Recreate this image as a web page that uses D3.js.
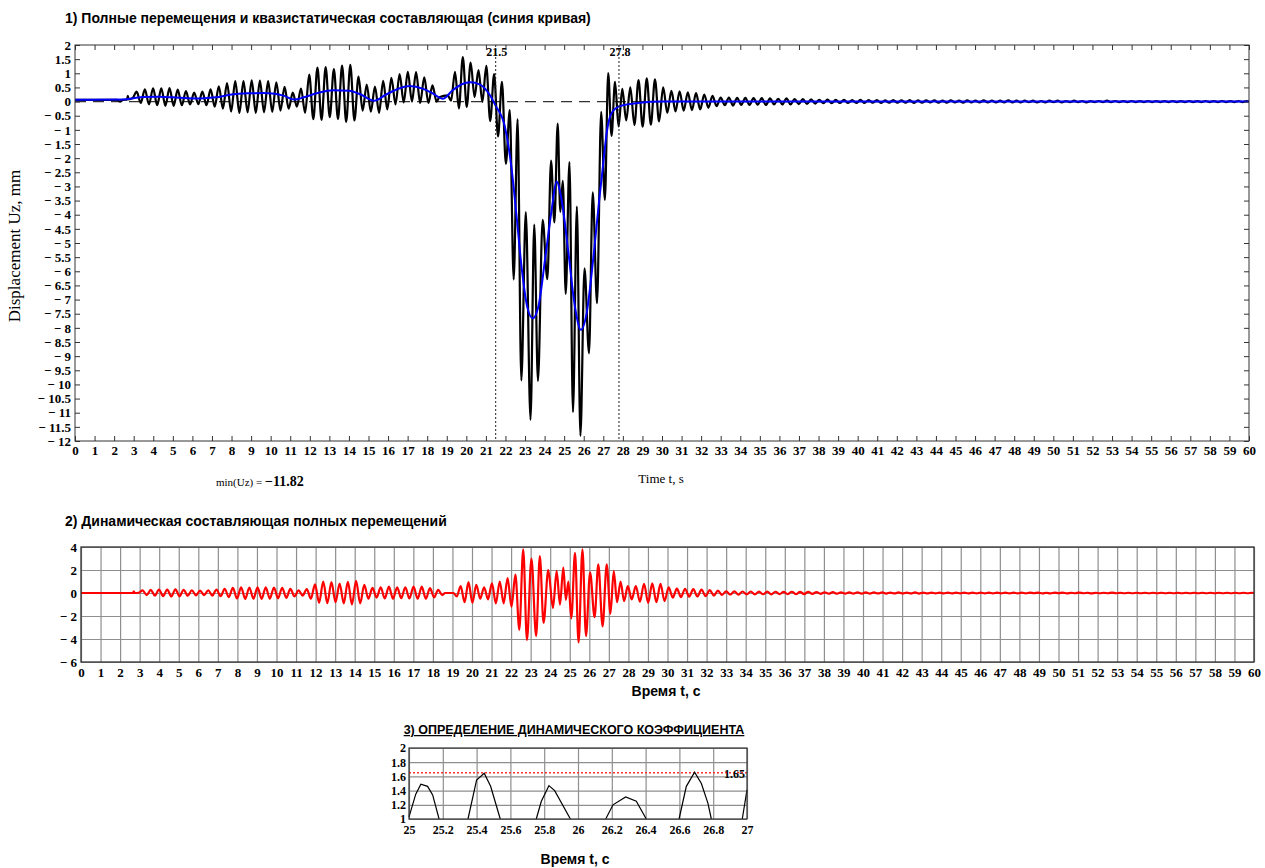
<!DOCTYPE html>
<html>
<head>
<meta charset="utf-8">
<script src="https://cdn.jsdelivr.net/npm/d3@7"></script>
<style>
  body { margin: 0; background: #fff; }
  svg { display: block; }
</style>
</head>
<body>
<svg id="chart" width="1265" height="868"></svg>
<script>
// ---------------- data ----------------
// time axis ticks, s
const timeTicks = [0,1,2,3,4,5,6,7,8,9,10,11,12,13,14,15,16,17,18,19,20,21,22,23,24,25,26,27,28,29,30,
  31,32,33,34,35,36,37,38,39,40,41,42,43,44,45,46,47,48,49,50,51,52,53,54,55,56,57,58,59,60];
const dispTicks = [2,1.5,1,0.5,0,-0.5,-1,-1.5,-2,-2.5,-3,-3.5,-4,-4.5,-5,-5.5,-6,-6.5,-7,-7.5,-8,-8.5,
  -9,-9.5,-10,-10.5,-11,-11.5,-12];
const dynTicks = [4,2,0,-2,-4,-6];
const coefTimeTicks = [25,25.2,25.4,25.6,25.8,26,26.2,26.4,26.6,26.8,27];
const coefTicks = [1,1.2,1.4,1.6,1.8,2];

// moments bounding the passage of the load, s
const markers = [21.5, 27.8];

// quasi-static displacement (blue curve), [t, Uz mm]
const quasiStatic = [[0,0.06],[2.5,0.07],[3,0.12],[3.5,0.16],[4.3,0.17],[5,0.15],[5.8,0.12],[6.4,0.11],
  [7.2,0.15],[8,0.25],[8.8,0.29],[9.6,0.3],[10.2,0.28],[10.7,0.2],[11.2,0.07],[11.7,0.15],[12.4,0.3],
  [13.2,0.4],[14,0.38],[14.6,0.25],[15.3,0.03],[15.9,0.25],[16.6,0.47],[17.1,0.55],[17.8,0.45],
  [18.3,0.28],[18.8,0.1],[19.3,0.4],[19.8,0.62],[20.2,0.68],[20.7,0.6],[21.2,0.23],[21.5,-0.15],
  [21.97,-0.89],[22.3,-2.3],[22.57,-4.07],[22.82,-5.83],[23.11,-7.25],[23.39,-7.66],[23.68,-7.25],
  [24.02,-5.6],[24.36,-3.83],[24.61,-2.83],[24.87,-3.48],[25.2,-5.24],[25.55,-7.25],[25.86,-8.07],
  [26.15,-7.48],[26.48,-5.6],[26.79,-3.48],[27.0,-2.18],[27.17,-1.12],[27.42,-0.41],[27.85,-0.16],
  [28.87,-0.04],[30,0],[60,0]];

// total displacement extrema up to 30 s, [t, Uz mm]
const totalHead = [[0,0.06],[2.15,0.06],[2.3,0.0],[2.45,0.06],[2.66,0.07],[2.7,0.2],[2.74,0.08],[2.95,0.13],
  [3.15,0.35],[3.36,-0.05],[3.57,0.43],[3.78,-0.1],[3.99,0.47],[4.2,-0.13],[4.41,0.47],[4.62,-0.15],
  [4.83,0.48],[5.04,-0.15],[5.25,0.42],[5.46,-0.13],[5.67,0.37],[5.88,-0.1],[6.09,0.32],[6.3,-0.09],
  [6.51,0.35],[6.72,-0.13],[6.93,0.43],[7.14,-0.18],[7.35,0.54],[7.56,-0.25],[7.77,0.65],[7.98,-0.35],
  [8.19,0.72],[8.4,-0.4],[8.61,0.72],[8.82,-0.38],[9.03,0.75],[9.24,-0.4],[9.45,0.74],[9.66,-0.38],
  [9.87,0.72],[10.08,-0.36],[10.29,0.68],[10.5,-0.32],[10.71,0.52],[10.92,-0.25],[11.13,0.32],[11.34,-0.18],
  [11.55,0.46],[11.76,-0.4],[11.97,0.95],[12.18,-0.62],[12.39,1.2],[12.6,-0.65],[12.81,1.22],[13.02,-0.55],
  [13.23,1.15],[13.44,-0.62],[13.65,1.27],[13.86,-0.72],[14.07,1.3],[14.28,-0.67],[14.49,0.88],[14.7,-0.32],
  [14.91,0.6],[15.12,-0.36],[15.33,0.53],[15.54,-0.4],[15.75,0.73],[15.96,-0.28],[16.17,0.84],[16.38,-0.1],
  [16.59,0.97],[16.8,-0.03],[17.01,1.05],[17.22,0.0],[17.43,1.04],[17.64,-0.05],[17.85,0.86],[18.06,-0.05],
  [18.27,0.57],[18.48,0.0],[18.62,0.15],[19.05,0.22],
  [19.22,0.03],[19.42,1.05],[19.62,-0.24],[19.82,1.57],[20.02,-0.19],[20.22,1.38],[20.42,0.16],[20.62,1.11],
  [20.82,-0.01],[21.02,1.26],[21.22,-0.69],[21.42,0.97],[21.62,-1.23],[21.82,0.7],[22.02,-2.2],[22.22,-0.3],
  [22.42,-6.29],[22.62,-0.62],[22.81,-9.86],[23.04,-3.91],[23.28,-11.25],[23.47,-4.35],[23.66,-9.88],
  [23.9,-4.18],[24.14,-6.28],[24.33,-2.09],[24.5,-4.27],[24.67,-0.78],[24.8,-3.9],[24.93,-2.8],[25.08,-6.8],
  [25.27,-2.14],[25.45,-10.98],[25.65,-3.71],[25.83,-11.82],[26.04,-5.9],[26.27,-8.9],[26.46,-3.21],
  [26.68,-7.13],[26.89,-0.36],[27.08,-3.48],[27.25,1.01],[27.42,-1.21],[27.6,0.7],[27.78,-0.88],[27.97,0.45],
  [28.17,-0.67],[28.38,0.5],[28.59,-0.83],[28.8,0.76],[29.01,-0.89],[29.22,0.82],[29.43,-0.82],[29.64,0.79],
  [29.85,-0.7]];

// dynamic component extrema up to 30 s, [t, mm]
const dynamicHead = [[0,0],[2.66,0],[2.7,0.15],[2.74,0],[2.95,0.02],
  [3.15,0.22],[3.36,-0.18],[3.57,0.27],[3.78,-0.24],[3.99,0.3],[4.2,-0.27],[4.41,0.3],[4.62,-0.3],
  [4.83,0.32],[5.04,-0.28],[5.25,0.28],[5.46,-0.24],[5.67,0.24],[5.88,-0.2],[6.09,0.2],[6.3,-0.18],
  [6.51,0.24],[6.72,-0.22],[6.93,0.3],[7.14,-0.28],[7.35,0.36],[7.56,-0.36],[7.77,0.45],[7.98,-0.48],
  [8.19,0.5],[8.4,-0.52],[8.61,0.48],[8.82,-0.5],[9.03,0.5],[9.24,-0.52],[9.45,0.5],[9.66,-0.5],
  [9.87,0.48],[10.08,-0.46],[10.29,0.45],[10.5,-0.42],[10.71,0.36],[10.92,-0.3],[11.13,0.24],[11.34,-0.22],
  [11.55,0.35],[11.76,-0.5],[11.97,0.75],[12.18,-0.85],[12.39,1.0],[12.6,-0.88],[12.81,0.95],[13.02,-0.8],
  [13.23,0.82],[13.44,-0.9],[13.65,0.98],[13.86,-1.0],[14.07,1.05],[14.28,-0.9],[14.49,0.7],[14.7,-0.5],
  [14.91,0.45],[15.12,-0.4],[15.33,0.5],[15.54,-0.48],[15.75,0.55],[15.96,-0.5],[16.17,0.5],[16.38,-0.45],
  [16.59,0.5],[16.8,-0.48],[17.01,0.55],[17.22,-0.5],[17.43,0.55],[17.64,-0.5],[17.85,0.42],[18.06,-0.38],
  [18.27,0.28],[18.48,-0.18],[18.62,0],[19.05,0],
  [19.22,-0.3],[19.42,0.6],[19.62,-0.8],[19.82,0.95],[20.02,-0.85],[20.22,0.7],[20.42,-0.5],[20.62,0.5],
  [20.82,-0.55],[21.02,0.85],[21.22,-0.9],[21.42,1.0],[21.62,-0.9],[21.82,1.3],[22.02,-1.2],[22.22,1.6],
  [22.42,-3.2],[22.62,3.8],[22.81,-4.1],[23.04,3.0],[23.28,-3.75],[23.47,3.2],[23.66,-2.6],[23.9,2.0],
  [24.14,-1.3],[24.33,1.9],[24.5,-1.0],[24.67,2.2],[24.8,-0.6],[24.93,1.0],[25.08,-2.2],[25.27,3.5],
  [25.45,-4.3],[25.65,3.8],[25.83,-3.75],[26.04,1.8],[26.27,-2.1],[26.46,2.5],[26.68,-2.9],[26.89,2.5],
  [27.08,-1.8],[27.25,1.9],[27.42,-0.8],[27.6,1.0],[27.78,-0.7],[27.97,0.6],
  [28.17,-0.55],[28.38,0.6],[28.59,-0.75],[28.8,0.8],[29.01,-0.85],[29.22,0.85],[29.43,-0.8],[29.64,0.8],
  [29.85,-0.7]];

// residual free vibration after 30 s (quasi-static part is zero here), [t, mm]
const residual = [[30.06,0.5],[30.27,-0.4],[30.48,0.38],[30.69,-0.35],[30.9,0.36],[31.11,-0.32],[31.32,0.33],
  [31.53,-0.3],[31.74,0.3],[31.95,-0.28],[32.16,0.25],[32.37,-0.22],[32.58,0.2],[32.79,-0.16],[33.0,0.14],
  [33.21,-0.13],[33.42,0.14],[33.63,-0.14],[33.84,0.13],[34.05,-0.12],[34.26,0.13],[34.47,-0.12],[34.68,0.12],
  [34.89,-0.11],[35.1,0.12],[35.31,-0.12],[35.52,0.11],[35.73,-0.1],[35.94,0.1],[36.15,-0.1],[36.36,0.11],
  [36.57,-0.1],[36.78,0.09],[36.99,-0.09],[37.2,0.09],[37.41,-0.08],[37.62,0.08],[37.83,-0.07],[38.04,0.06],
  [38.25,-0.06],[38.46,0.07],[38.67,-0.06],[38.88,0.06],[39.09,-0.05],[39.3,0.06],[39.51,-0.05],[39.72,0.05],
  [39.93,-0.05],[40.14,0.06],[40.35,-0.05],[40.56,0.05],[40.77,-0.04],[40.98,0.05],[41.19,-0.05],[41.4,0.04],
  [41.61,-0.04],[41.82,0.05],[42.03,-0.04],[42.24,0.04],[42.45,-0.04],[42.66,0.05],[42.87,-0.05],[43.08,0.04],
  [43.29,-0.04],[43.5,0.04],[43.71,-0.03],[43.92,0.04],[44.13,-0.04],[44.34,0.03],[44.55,-0.04],[44.76,0.04],
  [44.97,-0.03],[45.18,0.03],[45.39,-0.04],[45.6,0.04],[45.81,-0.03],[46.02,0.03],[46.23,-0.03],[46.44,0.04],
  [46.65,-0.03],[46.86,0.03],[47.07,-0.03],[47.28,0.03],[47.49,-0.03],[47.7,0.04],[47.91,-0.03],[48.12,0.03],
  [48.33,-0.03],[48.54,0.03],[48.75,-0.02],[48.96,0.03],[49.17,-0.03],[49.38,0.02],[49.59,-0.03],[49.8,0.03],
  [50.01,-0.02],[50.22,0.03],[50.43,-0.03],[50.64,0.02],[50.85,-0.02],[51.06,0.03],[51.27,-0.02],[51.48,0.02],
  [51.69,-0.03],[51.9,0.02],[52.11,-0.02],[52.32,0.02],[52.53,-0.02],[52.74,0.03],[52.95,-0.02],[53.16,0.02],
  [53.37,-0.02],[53.58,0.02],[53.79,-0.02],[54.0,0.02],[54.21,-0.02],[54.42,0.02],[54.63,-0.02],[54.84,0.02],
  [55.05,-0.02],[55.26,0.02],[55.47,-0.02],[55.68,0.02],[55.89,-0.02],[56.1,0.02],[56.31,-0.02],[56.52,0.02],
  [56.73,-0.02],[56.94,0.02],[57.15,-0.02],[57.36,0.02],[57.57,-0.02],[57.78,0.02],[57.99,-0.02],[58.2,0.02],
  [58.41,-0.02],[58.62,0.02],[58.83,-0.02],[59.04,0.02],[59.25,-0.02],[59.46,0.02],[59.67,-0.02],[59.88,0.02],
  [60,0]];

// dynamic coefficient Uz / Uz_quasi between 25 and 27 s (only the part above 1)
const coefArcs = [
  [[25.0,1.03],[25.04,1.35],[25.07,1.49],[25.11,1.46],[25.14,1.34],[25.178,1.0]],
  [[25.349,1.0],[25.4,1.55],[25.445,1.645],[25.483,1.46],[25.54,1.0]],
  [[25.753,1.0],[25.783,1.25],[25.828,1.47],[25.862,1.40],[25.955,1.0]],
  [[26.164,1.0],[26.207,1.2],[26.282,1.31],[26.345,1.25],[26.404,1.0]],
  [[26.598,1.0],[26.641,1.46],[26.69,1.66],[26.73,1.5],[26.769,1.22],[26.789,1.0]],
  [[26.972,1.0],[27.0,1.41]]
];
const coefLevel = 1.65;

const total = totalHead.concat(residual);
const dynamic = dynamicHead.concat(residual);

// ---------------- helpers ----------------
const SERIF = "'Liberation Serif','Times New Roman',serif";
const SANS = "'Liberation Sans',Arial,sans-serif";
const num = d3.format("~g");
const signed = v => v < 0 ? "\u2212 " + num(-v) : num(v);

const svg = d3.select("#chart");

function styleAxis(g, size) {
  g.attr("font-family", SERIF).attr("font-size", size).attr("font-weight", "bold");
  g.select(".domain").remove();
  g.selectAll(".tick line").attr("stroke", "#333");
  g.selectAll(".tick text").attr("fill", "#000");
}

// ---------------- 1) total displacement ----------------
const p1 = {left: 75, right: 1249, top: 45, bottom: 441};
const x1 = d3.scaleLinear().domain([0, 60]).range([p1.left, p1.right]);
const y1 = d3.scaleLinear().domain([-12, 2]).range([p1.bottom, p1.top]);

svg.append("text").attr("x", 65).attr("y", 23)
  .attr("font-family", SANS).attr("font-size", 14).attr("font-weight", "bold")
  .text("1) Полные перемещения и квазистатическая составляющая (синия кривая)");

svg.append("clipPath").attr("id", "clip1").append("rect")
  .attr("x", p1.left).attr("y", p1.top).attr("width", p1.right - p1.left).attr("height", p1.bottom - p1.top);

const plot1 = svg.append("g").attr("clip-path", "url(#clip1)");

plot1.append("line")
  .attr("x1", x1(0)).attr("x2", x1(60)).attr("y1", y1(0)).attr("y2", y1(0))
  .attr("stroke", "#333").attr("stroke-width", 1.3).attr("stroke-dasharray", "11,7");

const line1 = d3.line().x(d => x1(d[0])).y(d => y1(d[1])).curve(d3.curveMonotoneX);
plot1.append("path").datum(total).attr("d", line1)
  .attr("fill", "none").attr("stroke", "#000").attr("stroke-width", 2.2).attr("stroke-linejoin", "round");
plot1.append("path").datum(quasiStatic).attr("d", line1)
  .attr("fill", "none").attr("stroke", "#0000ff").attr("stroke-width", 2);

plot1.selectAll("line.marker").data(markers).join("line").attr("class", "marker")
  .attr("x1", d => x1(d)).attr("x2", d => x1(d)).attr("y1", p1.top).attr("y2", p1.bottom)
  .attr("stroke", "#222").attr("stroke-width", 1).attr("stroke-dasharray", "2,2");

svg.selectAll("text.marker").data(markers).join("text").attr("class", "marker")
  .attr("x", d => x1(d) + 1).attr("y", 56).attr("text-anchor", "middle")
  .attr("font-family", SERIF).attr("font-size", 12).attr("font-weight", "bold")
  .text(d => d3.format(".1f")(d));

svg.append("rect").attr("x", p1.left).attr("y", p1.top)
  .attr("width", p1.right - p1.left).attr("height", p1.bottom - p1.top)
  .attr("fill", "none").attr("stroke", "#333").attr("stroke-width", 1);

svg.append("g").attr("transform", `translate(${p1.left},0)`)
  .call(d3.axisLeft(y1).tickValues(dispTicks).tickSize(-5).tickSizeOuter(0).tickPadding(4).tickFormat(signed))
  .call(g => styleAxis(g, 13));
svg.append("g").attr("transform", `translate(${p1.right},0)`)
  .call(d3.axisRight(y1).tickValues(dispTicks).tickSize(-5).tickSizeOuter(0).tickFormat(""))
  .call(g => styleAxis(g, 13));
svg.append("g").attr("transform", `translate(0,${p1.bottom})`)
  .call(d3.axisBottom(x1).tickValues(timeTicks).tickSize(-5).tickSizeOuter(0).tickPadding(5).tickFormat(num))
  .call(g => styleAxis(g, 13));
svg.append("g").attr("transform", `translate(0,${p1.top})`)
  .call(d3.axisTop(x1).tickValues(timeTicks).tickSize(-5).tickSizeOuter(0).tickFormat(""))
  .call(g => styleAxis(g, 13));

svg.append("text")
  .attr("transform", `translate(20,${(p1.top + p1.bottom) / 2 + 3}) rotate(-90)`)
  .attr("text-anchor", "middle").attr("font-family", SERIF).attr("font-size", 17)
  .text("Displacement Uz, mm");

svg.append("text").attr("x", 661).attr("y", 483).attr("text-anchor", "middle")
  .attr("font-family", SERIF).attr("font-size", 13).text("Time t, s");

const minUz = d3.min(total, d => d[1]);
const minLabel = svg.append("text").attr("x", 216).attr("y", 486).attr("font-family", SERIF);
minLabel.append("tspan").attr("font-size", 11).text("min(Uz) = ");
minLabel.append("tspan").attr("font-size", 14).attr("font-weight", "bold")
  .text("\u2212" + d3.format(".2f")(-minUz));

// ---------------- 2) dynamic component ----------------
const p2 = {left: 81, right: 1254, top: 547, bottom: 662};
const x2 = d3.scaleLinear().domain([0, 60]).range([p2.left, p2.right]);
const y2 = d3.scaleLinear().domain([-6, 4]).range([p2.bottom, p2.top]);

svg.append("text").attr("x", 65).attr("y", 526)
  .attr("font-family", SANS).attr("font-size", 14).attr("font-weight", "bold")
  .text("2) Динамическая составляющая полных перемещений");

svg.append("g").attr("transform", `translate(0,${p2.bottom})`)
  .call(d3.axisBottom(x2).tickValues(timeTicks).tickSize(-(p2.bottom - p2.top)).tickSizeOuter(0).tickPadding(6).tickFormat(num))
  .call(g => styleAxis(g, 13))
  .call(g => g.selectAll(".tick line").attr("stroke", "#8f8f8f").attr("stroke-width", 1.2));
svg.append("g").attr("transform", `translate(${p2.left},0)`)
  .call(d3.axisLeft(y2).tickValues(dynTicks).tickSize(-(p2.right - p2.left)).tickSizeOuter(0).tickPadding(4).tickFormat(signed))
  .call(g => styleAxis(g, 13))
  .call(g => g.selectAll(".tick line").attr("stroke", "#8f8f8f").attr("stroke-width", 1.2));

svg.append("clipPath").attr("id", "clip2").append("rect")
  .attr("x", p2.left).attr("y", p2.top).attr("width", p2.right - p2.left).attr("height", p2.bottom - p2.top);
const line2 = d3.line().x(d => x2(d[0])).y(d => y2(d[1])).curve(d3.curveMonotoneX);
svg.append("g").attr("clip-path", "url(#clip2)")
  .append("path").datum(dynamic).attr("d", line2)
  .attr("fill", "none").attr("stroke", "#ff0000").attr("stroke-width", 2.2).attr("stroke-linejoin", "round");

svg.append("rect").attr("x", p2.left).attr("y", p2.top)
  .attr("width", p2.right - p2.left).attr("height", p2.bottom - p2.top)
  .attr("fill", "none").attr("stroke", "#333").attr("stroke-width", 1.3);

svg.append("text").attr("x", 666).attr("y", 696).attr("text-anchor", "middle")
  .attr("font-family", SANS).attr("font-size", 14).attr("font-weight", "bold")
  .text("Время t, с");

// ---------------- 3) dynamic coefficient ----------------
const p3 = {left: 409, right: 747, top: 748, bottom: 819};
const x3 = d3.scaleLinear().domain([25, 27]).range([p3.left, p3.right]);
const y3 = d3.scaleLinear().domain([1, 2]).range([p3.bottom, p3.top]);

svg.append("text").attr("x", 574).attr("y", 734).attr("text-anchor", "middle")
  .attr("font-family", SANS).attr("font-size", 12.5).attr("font-weight", "bold")
  .attr("text-decoration", "underline")
  .text("3) ОПРЕДЕЛЕНИЕ ДИНАМИЧЕСКОГО КОЭФФИЦИЕНТА");

svg.append("g").attr("transform", `translate(0,${p3.bottom})`)
  .call(d3.axisBottom(x3).tickValues(coefTimeTicks).tickSize(-(p3.bottom - p3.top)).tickSizeOuter(0).tickPadding(6).tickFormat(num))
  .call(g => styleAxis(g, 12))
  .call(g => g.selectAll(".tick line").attr("stroke", "#8f8f8f").attr("stroke-width", 1.2));
svg.append("g").attr("transform", `translate(${p3.left},0)`)
  .call(d3.axisLeft(y3).tickValues(coefTicks).tickSize(-(p3.right - p3.left)).tickSizeOuter(0).tickPadding(3).tickFormat(num))
  .call(g => styleAxis(g, 12))
  .call(g => g.selectAll(".tick line").attr("stroke", "#8f8f8f").attr("stroke-width", 1.2));

svg.append("line").attr("x1", p3.left).attr("x2", p3.right).attr("y1", y3(coefLevel)).attr("y2", y3(coefLevel))
  .attr("stroke", "#ff3030").attr("stroke-width", 1.5).attr("stroke-dasharray", "2,2");

const line3 = d3.line().x(d => x3(d[0])).y(d => y3(d[1]));
svg.append("g").selectAll("path").data(coefArcs).join("path")
  .attr("d", line3).attr("fill", "none").attr("stroke", "#000").attr("stroke-width", 1.2);

svg.append("rect").attr("x", p3.left).attr("y", p3.top)
  .attr("width", p3.right - p3.left).attr("height", p3.bottom - p3.top)
  .attr("fill", "none").attr("stroke", "#333").attr("stroke-width", 1.2);

svg.append("text").attr("x", p3.right - 2).attr("y", y3(coefLevel) + 5).attr("text-anchor", "end")
  .attr("font-family", SERIF).attr("font-size", 12).attr("font-weight", "bold")
  .text(d3.format(".2f")(coefLevel));

svg.append("text").attr("x", 575).attr("y", 864).attr("text-anchor", "middle")
  .attr("font-family", SANS).attr("font-size", 14).attr("font-weight", "bold")
  .text("Время t, с");
</script>
</body>
</html>
